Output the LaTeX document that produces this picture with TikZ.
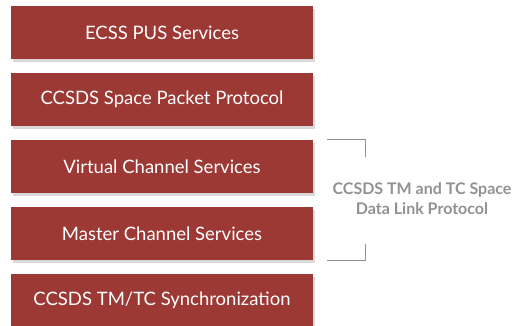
\documentclass[tikz,border=0pt]{standalone}
\usepackage{fontspec}
\setmainfont{Lato}
\usetikzlibrary{positioning}
\usetikzlibrary{shadows}
\definecolor{brick}{RGB}{157,57,53}
\definecolor{bracegray}{RGB}{145,145,145}

\begin{document}
\begin{tikzpicture}[x=1pt,y=1pt,
	layer/.style={fill=brick,text=white,minimum width=302pt,minimum height=53.3pt,inner sep=0pt,
		font=\fontsize{18.5}{22}\selectfont,
		drop shadow={shadow xshift=2pt,shadow yshift=-3pt,opacity=0.3}},
	tag/.style={text=bracegray,align=center,font=\bfseries\fontsize{16}{20}\selectfont},
	node distance=13.3pt]
	\useasboundingbox (0,0) rectangle (519,325);
	% protocol stack
	\node[layer] (pus) at (162,292.3) {ECSS PUS Services};
	\node[layer,below=of pus] (spp) {CCSDS Space Packet Protocol};
	\node[layer,below=of spp] (vc) {Virtual Channel Services};
	\node[layer,below=of vc] (mc) {Master Channel Services};
	\node[layer,below=of mc] (sync) {CCSDS TM/TC Synchronization};
	% bracket and label
	\coordinate (btop) at ([xshift=14pt]vc.north east);
	\coordinate (bbot) at ([xshift=14pt]mc.south east);
	\draw[bracegray,line width=1.2pt] (btop) -- ++(38,0) -- ++(0,-17);
	\draw[bracegray,line width=1.2pt] (bbot) -- ++(38,0) -- ++(0,17);
	\node[tag] (dll) at (422,126) {CCSDS TM and TC Space\\Data Link Protocol};
\end{tikzpicture}
\end{document}
